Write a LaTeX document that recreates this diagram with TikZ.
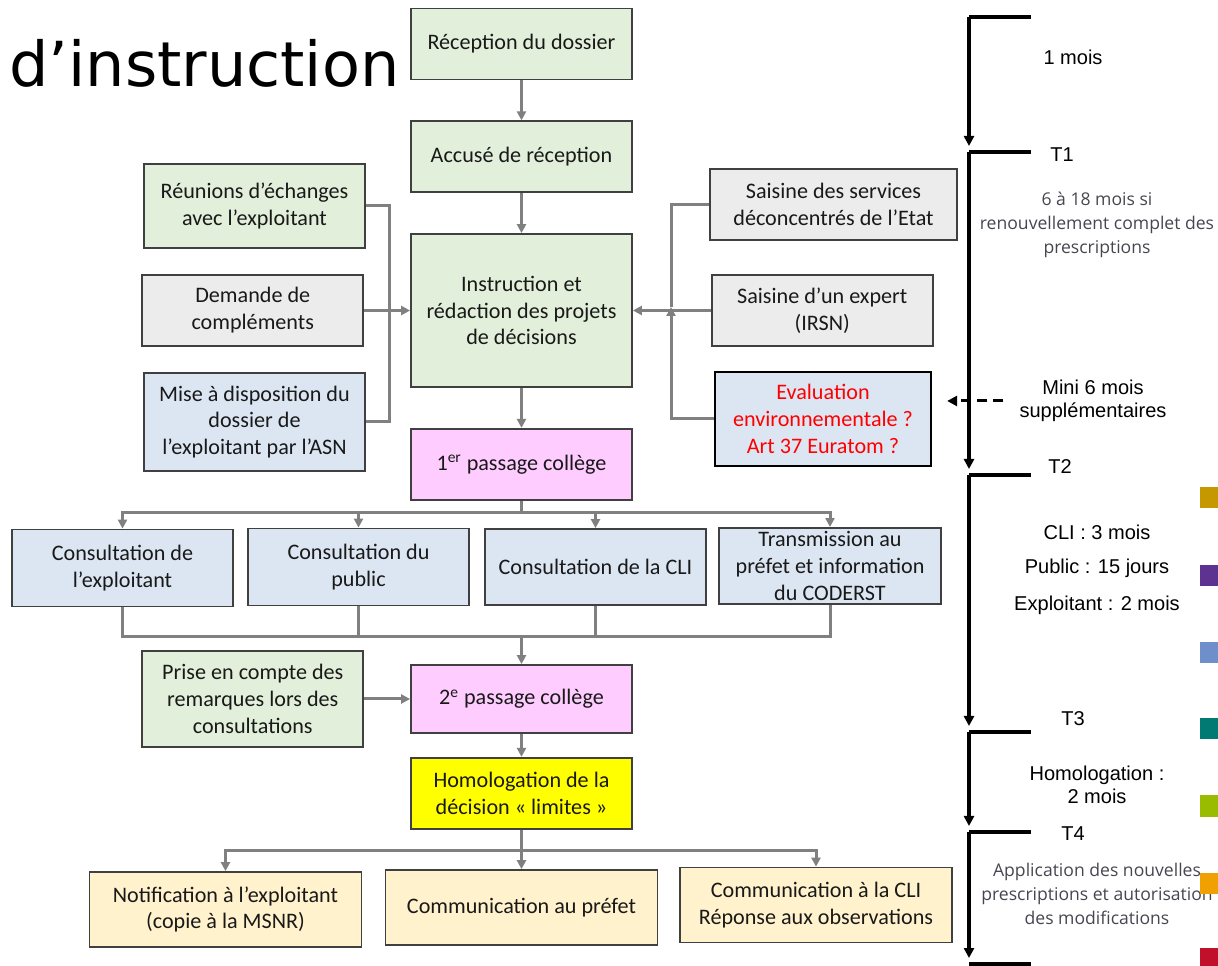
\documentclass[tikz,border=0pt]{standalone}
\usepackage{fontspec}
\setmainfont{Carlito}
\newfontfamily\arialfont{Liberation Sans}
\newfontfamily\notefont{Open Sans}
\newfontfamily\titlefont{DejaVu Sans}
\usetikzlibrary{arrows.meta,positioning}
\definecolor{grfill}{RGB}{226,239,218}
\definecolor{gyfill}{RGB}{236,236,236}
\definecolor{blfill}{RGB}{220,230,242}
\definecolor{pkfill}{RGB}{255,204,255}
\definecolor{yefill}{RGB}{255,255,0}
\definecolor{orfill}{RGB}{255,242,204}
\definecolor{linkgray}{RGB}{128,128,128}
\definecolor{notegray}{RGB}{70,70,80}
\definecolor{evalred}{RGB}{255,0,0}
\definecolor{sqgold}{RGB}{197,152,0}
\definecolor{sqpurple}{RGB}{93,50,145}
\definecolor{sqblue}{RGB}{110,143,201}
\definecolor{sqteal}{RGB}{0,122,115}
\definecolor{sqgreen}{RGB}{153,187,0}
\definecolor{sqorange}{RGB}{240,160,0}
\definecolor{sqred}{RGB}{192,16,42}

\begin{document}
\begin{tikzpicture}[x=0.2mm, y=-0.2mm,
  >={Triangle[length=1.8mm,width=1.8mm]},
  b/.style={draw=black!75, line width=0.35mm, align=center, inner sep=2pt,
            minimum width=44.2mm, minimum height=14.2mm, text=black!90,
            font=\fontsize{12.6}{15.3}\selectfont},
  gr/.style={b, fill=grfill}, gy/.style={b, fill=gyfill},
  bl/.style={b, fill=blfill}, pk/.style={b, fill=pkfill},
  ye/.style={b, fill=yefill},
  orb/.style={b, fill=orfill, minimum width=54.4mm, minimum height=15mm},
  ln/.style={draw=linkgray, line width=0.6mm},
  tl/.style={line width=0.8mm, -{Triangle[length=2mm,width=2mm]}, shorten >=1.2mm},
  tk/.style={line width=0.7mm},
  lab/.style={font=\arialfont\fontsize{11.4}{13.1}\selectfont, align=center},
  note/.style={font=\notefont\fontsize{10}{13.7}\selectfont, text=notegray, align=center}]
\useasboundingbox (0,0) rectangle (1218,966);

\node[font=\titlefont\fontsize{35.3}{40}\selectfont, anchor=base west, inner sep=0pt] (ttl) at (9,87) {d’instruction};

% colonne centrale
\node[gr] (rec) at (521.5,44) {Réception du dossier};
\node[gr, below=8mm of rec] (acc) {Accusé de réception};
\node[gr, below=8mm of acc, minimum height=30.6mm] (instr) {Instruction et\\rédaction des projets\\de décisions};
\node[pk, below=8mm of instr] (col1) {1\textsuperscript{er} passage collège};

% entrees gauche / droite
\node[gr, minimum height=16.8mm] (reu) at (254.5,206) {Réunions d’échanges\\avec l’exploitant};
\node[gy, left=9.2mm of instr] (dem) {Demande de\\compléments};
\node[bl, minimum height=19.6mm] (mise) at (254.5,422) {Mise à disposition du\\dossier de\\l’exploitant par l’ASN};
\node[gy, minimum width=49.4mm] (sds) at (833.5,204.5) {Saisine des services\\déconcentrés de l’Etat};
\node[gy, right=15.6mm of instr] (exp) {Saisine d’un expert\\(IRSN)};
\node[bl, draw=black, line width=0.45mm, minimum width=43.2mm, minimum height=18.8mm,
      text=evalred] (evl) at (823,419) {Evaluation\\environnementale ?\\Art 37 Euratom ?};

% consultations
\node[bl, minimum height=15.4mm] (c1) at (122.5,568) {Consultation de\\l’exploitant};
\node[bl, minimum height=15.4mm] (c2) at (358.5,567) {Consultation du\\public};
\node[bl, minimum height=15.2mm] (c3) at (595.5,567) {Consultation de la CLI};
\node[bl, minimum height=15.2mm, minimum width=44.4mm] (c4) at (830,566) {Transmission au\\préfet et information\\du CODERST};

\node[pk, minimum height=13.6mm] (col2) at (521.5,699) {2\textsuperscript{e} passage collège};
\node[gr, left=9.2mm of col2, minimum height=19.2mm] (pri) {Prise en compte des\\remarques lors des\\consultations};
\node[ye, below=4.6mm of col2] (hom) {Homologation de la\\décision « limites »};

\node[orb] (n1) at (225.5,909.5) {Notification à l’exploitant\\(copie à la MSNR)};
\node[orb] (n2) at (521.5,907.5) {Communication au préfet};
\node[orb] (n3) at (816,905) {Communication à la CLI\\Réponse aux observations};

% liaisons
\draw[ln,->] (rec) -- (acc);
\draw[ln,->] (acc) -- (instr);
\draw[ln,->] (instr) -- (col1);
\coordinate (lbus) at (389,306.5);
\draw[ln] (reu.east) -| (lbus) |- (mise.east);
\draw[ln,->] (dem) -- (instr);
\coordinate (rbus) at (671,307);
\draw[ln] (sds.west) -| (rbus);
\draw[ln,->] (evl.west) -| (rbus);
\draw[ln,->] (exp) -- (instr);

\coordinate (fan) at (521.5,513);
\draw[ln] (col1) -- (fan);
\foreach \n in {c1,c2,c3,c4} \draw[ln,->] (fan) -| (\n.north);
\coordinate (join) at (521.5,637);
\foreach \n in {c1,c2,c3,c4} \draw[ln] (\n.south) |- (join);
\draw[ln,->] (join) -- (col2);
\draw[ln,->] (pri) -- (col2);
\draw[ln,->] (col2) -- (hom);
\coordinate (fan2) at (521.5,850);
\draw[ln] (hom) -- (fan2);
\foreach \n in {n1,n2,n3} \draw[ln,->] (fan2) -| (\n.north);

% echeancier
\coordinate (t0) at (969,17);
\coordinate (t1) at (969,152);
\coordinate (t2) at (969,475);
\coordinate (t3) at (969,732);
\coordinate (t4) at (969,832);
\coordinate (t5) at (969,964);
\foreach \t in {t0,t1,t2,t3,t4,t5} \draw[tk] (\t) -- ++(62,0);
\draw[tl] (t0) -- (t1);
\draw[tl] (t1) -- (t2);
\draw[tl] (t2) -- (t3);
\draw[tl] (t3) -- (t4);
\draw[tl] (t4) -- (t5);

\node[lab] (m1) at (1073,57) {1 mois};
\node[lab] (T1) at (1062,155) {T1};
\node[note] (dur1) at (1097,225) {6 à 18 mois si\\renouvellement complet des\\prescriptions};
\node[lab] (mini) at (1093,401) {Mini 6 mois\\supplémentaires};
\node[lab] (T2) at (1060,467) {T2};
\node[lab] (dcli) at (1097,532) {CLI : 3 mois};
\node[lab] (dpub) at (1097,568) {Public : 15 jours};
\node[lab] (dexp) at (1097,605) {Exploitant : 2 mois};
\node[lab] (T3) at (1073,719) {T3};
\node[lab] (dhom) at (1097,785) {Homologation :\\2 mois};
\node[lab] (T4) at (1073,834) {T4};
\node[note] (appl) at (1097,894) {Application des nouvelles\\prescriptions et autorisation\\des modifications};

\draw[line width=0.6mm, dashed, dash pattern=on 2mm off 1.2mm, -{Triangle[length=2mm,width=2mm]},
      shorten <=2mm, shorten >=3mm] (mini.west) -- (evl.east |- mini.west);

% carres de couleur
\foreach \c/\y in {sqgold/497.5, sqpurple/575.5, sqblue/652.5, sqteal/728.5,
                   sqgreen/806, sqorange/883, sqred/958}
  \fill[\c] (1200,\y-10.5) rectangle (1218,\y+10.5);
\end{tikzpicture}
\end{document}
